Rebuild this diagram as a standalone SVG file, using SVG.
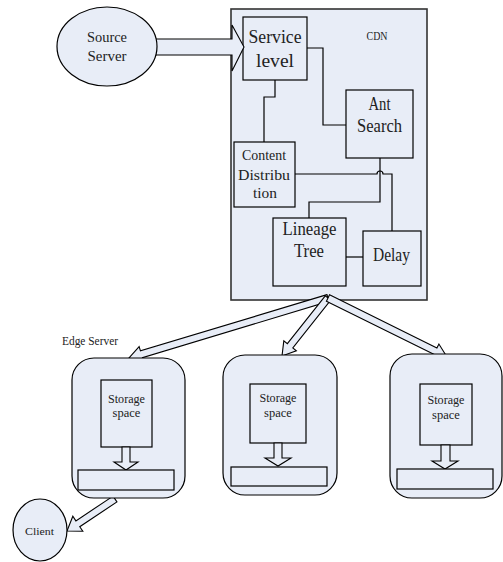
<svg xmlns="http://www.w3.org/2000/svg" width="503" height="562" viewBox="0 0 503 562">
<style>
.box{fill:#e8edf7;stroke:#000;stroke-width:1.2}
.frame{fill:#e8edf7;stroke:#333;stroke-width:1.6}
.blk{fill:#e8edf7;stroke:#000;stroke-width:1.1;stroke-linejoin:miter}
.wire{fill:none;stroke:#000;stroke-width:1.2}
.mono{font-family:"Liberation Serif","DejaVu Serif",serif;fill:#222;text-anchor:middle}
.ser{font-family:"Liberation Serif","DejaVu Serif",serif;fill:#222;text-anchor:middle}
</style>
<rect width="503" height="562" fill="#fff"/>

<g id="cdn">
<rect class="frame" x="231" y="9" width="196" height="291"/>
<text class="mono" x="377" y="40" font-size="12" textLength="21" lengthAdjust="spacingAndGlyphs">CDN</text>
</g>

<g id="service-level">
<rect class="box" x="243" y="17" width="64" height="63"/>
<text class="mono" x="275" y="43" font-size="18" textLength="53" lengthAdjust="spacingAndGlyphs">Service</text>
<text class="mono" x="275" y="67" font-size="18" textLength="38" lengthAdjust="spacingAndGlyphs">level</text>
</g>

<g id="ant-search">
<rect class="box" x="346" y="90" width="67" height="68"/>
<text class="mono" x="379.5" y="110" font-size="18" textLength="22" lengthAdjust="spacingAndGlyphs">Ant</text>
<text class="mono" x="379.5" y="132" font-size="18" textLength="45" lengthAdjust="spacingAndGlyphs">Search</text>
</g>

<g id="content-distribution">
<rect class="box" x="234" y="142" width="61" height="65"/>
<text class="mono" x="264" y="160" font-size="15" textLength="44" lengthAdjust="spacingAndGlyphs">Content</text>
<text class="mono" x="264" y="180" font-size="15" textLength="52" lengthAdjust="spacingAndGlyphs">Distribu</text>
<text class="mono" x="265" y="198" font-size="15" textLength="24" lengthAdjust="spacingAndGlyphs">tion</text>
</g>

<g id="lineage-tree">
<rect class="box" x="273" y="218" width="73" height="68"/>
<text class="mono" x="309.5" y="235" font-size="18" textLength="54" lengthAdjust="spacingAndGlyphs">Lineage</text>
<text class="mono" x="309" y="257" font-size="18" textLength="30" lengthAdjust="spacingAndGlyphs">Tree</text>
</g>

<g id="delay">
<rect class="box" x="363" y="231" width="58" height="55"/>
<text class="mono" x="391.5" y="261" font-size="18" textLength="37" lengthAdjust="spacingAndGlyphs">Delay</text>
</g>

<g id="connectors">
<path class="wire" d="M307,48 H323 V125 H346"/>
<path class="wire" d="M275,80 V97 H264 V142"/>
<path class="wire" d="M380,158 V202 H309 V218"/>
<path class="wire" d="M295,174 H377 A3,3 0 0 1 383,174 H392 V231"/>
<path class="wire" d="M346,257 H363"/>
<polygon class="blk" points="155,39 232,39 232,25 244,47 232,71 232,55 155,55"/>
<polygon class="blk" points="326.99,294.65 140.44,350.90 139.14,346.59 129,358 143.76,361.91 142.46,357.60 329.01,301.35"/>
<polygon class="blk" points="325.26,295.83 287.34,343.64 283.81,340.84 282,356 296.35,350.78 292.82,347.98 330.74,300.17"/>
<polygon class="blk" points="326.45,301.14 433.80,354.37 431.80,358.40 447,357 438.90,344.06 436.90,348.09 329.55,294.86"/>
<polygon class="blk" points="113.06,496.09 75.88,520.88 72.83,516.30 67,531 82.82,531.28 79.76,526.70 116.94,501.91"/>
</g>

<g id="source-server">
<ellipse class="box" cx="107" cy="46.5" rx="50" ry="39.5"/>
<text class="ser" x="107" y="42" font-size="15" textLength="40" lengthAdjust="spacingAndGlyphs">Source</text>
<text class="ser" x="107" y="61" font-size="15" textLength="39" lengthAdjust="spacingAndGlyphs">Server</text>
</g>

<text class="ser" x="90" y="345" font-size="11.5" textLength="56" lengthAdjust="spacingAndGlyphs">Edge Server</text>

<g id="edge-server-1">
<rect class="box" x="72" y="358" width="113" height="140" rx="22"/>
<rect class="box" x="101" y="380" width="51" height="67"/>
<text class="ser" x="126.5" y="403" font-size="12.5" textLength="37" lengthAdjust="spacingAndGlyphs">Storage</text>
<text class="ser" x="126.5" y="417" font-size="12.5">space</text>
<polygon class="blk" points="122,447 130,447 130,462 138,462 126,470 114,462 122,462"/>
<rect class="box" x="78" y="470" width="96" height="20"/>
</g>

<g id="edge-server-2">
<rect class="box" x="223" y="355" width="114" height="140" rx="22"/>
<rect class="box" x="250" y="384" width="56" height="59"/>
<text class="ser" x="278" y="402" font-size="12.5" textLength="37" lengthAdjust="spacingAndGlyphs">Storage</text>
<text class="ser" x="278" y="417" font-size="12.5">space</text>
<polygon class="blk" points="274,443 282,443 282,458 291,458 278,466 265,458 274,458"/>
<rect class="box" x="231" y="467" width="96" height="19"/>
</g>

<g id="edge-server-3">
<rect class="box" x="390" y="354" width="112" height="144" rx="22"/>
<rect class="box" x="420" y="384" width="52" height="61"/>
<text class="ser" x="446" y="404" font-size="12.5" textLength="37" lengthAdjust="spacingAndGlyphs">Storage</text>
<text class="ser" x="446" y="419" font-size="12.5">space</text>
<polygon class="blk" points="441,445 450,445 450,461 458,461 445,469 432,461 441,461"/>
<rect class="box" x="397" y="469" width="96" height="20"/>
</g>

<g id="client">
<ellipse class="box" cx="40" cy="530" rx="27" ry="31"/>
<text class="mono" x="39.5" y="535" font-size="11" textLength="29" lengthAdjust="spacingAndGlyphs">Client</text>
</g>
</svg>
